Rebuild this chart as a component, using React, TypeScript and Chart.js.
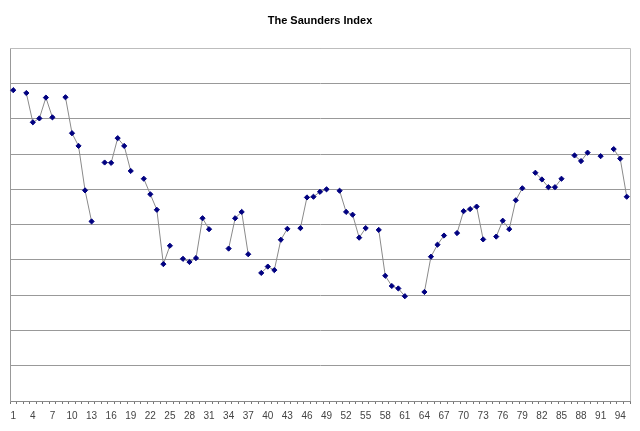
import React, { useRef, useEffect } from 'react';
import { Chart, registerables } from 'chart.js';

Chart.register(...registerables);

// trading days 1..95, null where there is no reading
const days: string[] = Array.from({ length: 95 }, (_, i) => String(i + 1));

const index: (number | null)[] = [
  8.81, null, 8.73, 7.90, 8.01, 8.60, 8.04, null, 8.61, 7.59,
  7.23, 5.97, 5.09, null, 6.76, 6.75, 7.45, 7.23, 6.52, null,
  6.30, 5.86, 5.42, 3.88, 4.40, null, 4.03, 3.94, 4.05, 5.18,
  4.87, null, null, 4.32, 5.18, 5.36, 4.16, null, 3.63, 3.81,
  3.71, 4.57, 4.88, null, 4.90, 5.77, 5.79, 5.93, 6.00, null,
  5.96, 5.36, 5.28, 4.63, 4.90, null, 4.85, 3.55, 3.26, 3.19,
  2.97, null, null, 3.09, 4.09, 4.43, 4.69, null, 4.76, 5.38,
  5.44, 5.51, 4.58, null, 4.66, 5.11, 4.87, 5.69, 6.03, null,
  6.47, 6.28, 6.06, 6.06, 6.30, null, 6.96, 6.80, 7.04, null,
  6.94, null, 7.14, 6.87, 5.79,
];

const plotFrame = {
  id: 'plotFrame',
  afterDraw(chart: Chart) {
    const { ctx, chartArea } = chart;
    ctx.save();
    ctx.strokeStyle = '#bdbdbd';
    ctx.lineWidth = 1;
    ctx.beginPath();
    ctx.moveTo(chartArea.left, Math.round(chartArea.top) + 0.5);
    ctx.lineTo(Math.round(chartArea.right) + 0.5, Math.round(chartArea.top) + 0.5);
    ctx.lineTo(Math.round(chartArea.right) + 0.5, chartArea.bottom);
    ctx.stroke();
    ctx.restore();
  },
};

const SaundersChart = () => {
  const canvasRef = useRef<HTMLCanvasElement>(null);

  useEffect(() => {
    const ctx = canvasRef.current?.getContext('2d');
    if (!ctx) return;

    const chart = new Chart(ctx, {
      type: 'line',
      data: {
        labels: days,
        datasets: [
          {
            data: index,
            borderColor: '#8a8a8a',
            borderWidth: 1,
            pointStyle: 'rectRot',
            pointRadius: 2.6,
            pointBackgroundColor: '#000080',
            pointBorderColor: '#000080',
            pointBorderWidth: 1,
            spanGaps: false,
            tension: 0,
          },
        ],
      },
      options: {
        animation: false,
        responsive: false,
        layout: { padding: { left: 10, right: 10, bottom: 3 } },
        plugins: {
          legend: { display: false },
          tooltip: { enabled: false },
          title: {
            display: true,
            text: 'The Saunders Index',
            color: '#000',
            font: { family: 'Liberation Sans', size: 11, weight: 'bold' },
            padding: { top: 14, bottom: 21 },
          },
        },
        scales: {
          x: {
            offset: true,
            grid: {
              offset: true,
              drawOnChartArea: false,
              drawTicks: true,
              tickLength: 3,
              color: '#777',
            },
            border: { color: '#888' },
            ticks: {
              autoSkip: false,
              maxRotation: 0,
              padding: 6,
              color: '#444',
              font: { family: 'Liberation Sans', size: 10 },
              callback: (_v, i) => (i % 3 === 0 ? days[i] : ''),
            },
          },
          y: {
            min: 0,
            max: 10,
            grid: { color: '#999', drawTicks: false },
            border: { color: '#999' },
            ticks: { display: false, stepSize: 1 },
          },
        },
      },
      plugins: [plotFrame],
    });

    return () => chart.destroy();
  }, []);

  return <canvas ref={canvasRef} width={640} height={431} />;
};

export default function App() {
  return (
    <div style={{ position: 'absolute', left: 0, top: 0, width: 640, height: 431, background: '#fff' }}>
      <SaundersChart />
    </div>
  );
}
